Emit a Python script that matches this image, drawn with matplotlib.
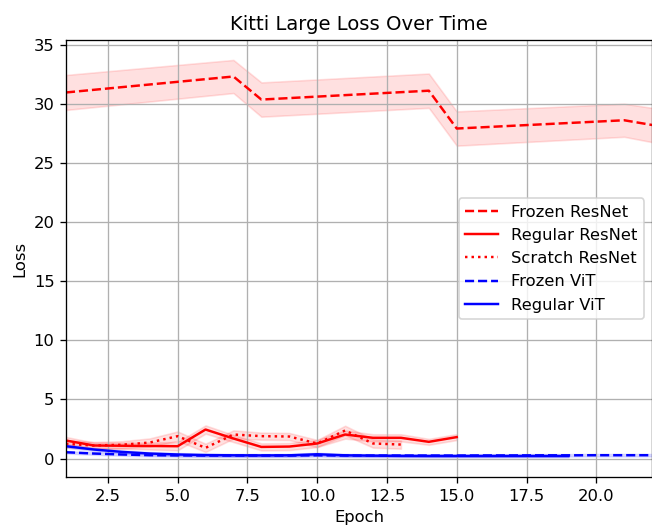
import numpy as np
import matplotlib
matplotlib.use("Agg")
import matplotlib.pyplot as plt

# epochs and mean loss per run
frozen_resnet_x = [1, 7, 8, 14, 15, 21, 22]
frozen_resnet_y = [30.95, 32.3, 30.35, 31.1, 27.9, 28.6, 28.2]
frozen_resnet_sd = [1.48, 1.4, 1.45, 1.45, 1.45, 1.4, 1.45]

regular_resnet_x = list(range(1, 16))
regular_resnet_y = [1.52, 1.10, 1.08, 1.06, 1.04, 2.45, 1.69, 0.98, 1.01, 1.27, 2.03, 1.75, 1.75, 1.41, 1.81]
regular_resnet_sd = [0.3, 0.25, 0.25, 0.3, 0.35, 0.35, 0.3, 0.3, 0.3, 0.3, 0.35, 0.3, 0.3, 0.25, 0.25]

scratch_resnet_x = list(range(1, 14))
scratch_resnet_y = [1.24, 1.10, 1.16, 1.35, 1.89, 0.90, 2.03, 1.89, 1.86, 1.27, 2.37, 1.27, 1.18]
scratch_resnet_sd = [0.3, 0.3, 0.3, 0.35, 0.4, 0.35, 0.35, 0.3, 0.3, 0.3, 0.4, 0.35, 0.35]

frozen_vit_x = list(range(1, 23))
frozen_vit_y = [0.53, 0.42, 0.34, 0.28, 0.26, 0.25, 0.25, 0.25, 0.25, 0.27, 0.25, 0.25,
                0.25, 0.25, 0.25, 0.26, 0.26, 0.27, 0.27, 0.28, 0.28, 0.28]
frozen_vit_sd = [0.1] * 22

regular_vit_x = list(range(1, 20))
regular_vit_y = [1.04, 0.76, 0.56, 0.42, 0.34, 0.29, 0.27, 0.26, 0.27, 0.36, 0.27, 0.24,
                 0.22, 0.21, 0.21, 0.21, 0.21, 0.21, 0.21]
regular_vit_sd = [0.12] * 19

runs = [
    ("Frozen ResNet", frozen_resnet_x, frozen_resnet_y, frozen_resnet_sd, "r", "--"),
    ("Regular ResNet", regular_resnet_x, regular_resnet_y, regular_resnet_sd, "r", "-"),
    ("Scratch ResNet", scratch_resnet_x, scratch_resnet_y, scratch_resnet_sd, "r", ":"),
    ("Frozen ViT", frozen_vit_x, frozen_vit_y, frozen_vit_sd, "b", "--"),
    ("Regular ViT", regular_vit_x, regular_vit_y, regular_vit_sd, "b", "-"),
]

dpi = 118
fig = plt.figure(figsize=(652 / dpi, 530 / dpi), dpi=dpi)
ax = fig.add_axes([0.1012, 0.0994, 0.899, 0.825])

for name, x, y, sd, c, ls in runs:
    x = np.array(x)
    y = np.array(y)
    sd = np.array(sd)
    ax.plot(x, y, color=c, linestyle=ls, label=name)
    ax.fill_between(x, y - sd, y + sd, color=c, alpha=0.12)

ax.set_xlim(1, 22)
ax.set_title("Kitti Large Loss Over Time")
ax.set_xlabel("Epoch")
ax.set_ylabel("Loss")
ax.grid(True)
ax.legend(loc="center right")

fig.savefig("out.png", dpi=dpi)
